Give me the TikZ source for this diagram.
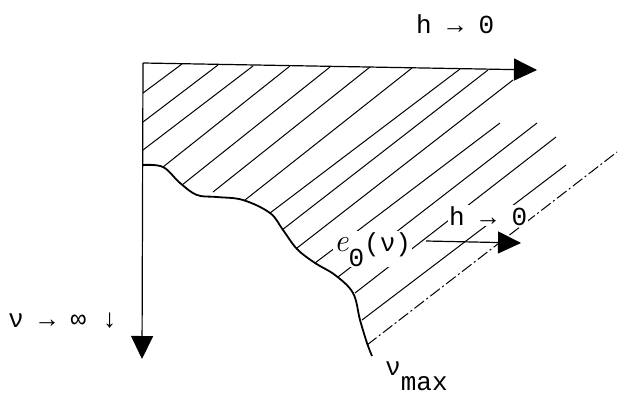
\documentclass[tikz,border=0pt]{standalone}
\usepackage{fontspec}
\usepackage{tikz}
\usetikzlibrary{arrows.meta}
\newfontfamily\typew{Liberation Mono}
\newfontfamily\scripte{Latin Modern Roman}

\tikzset{
  axis/.style={line width=1.2pt, -{Triangle[length=23pt,width=22pt]}},
  hatch/.style={line width=1pt},
  front/.style={line width=1.8pt, line join=round},
  lbl/.style={font=\typew\fontsize{26}{30}\selectfont, inner sep=0pt},
}

\begin{document}
\begin{tikzpicture}[x=1pt,y=-1pt]
  \useasboundingbox (0,0) rectangle (620,394);
  % hatching of the region
  \foreach \xa/\ya/\xb/\yb in {143/93/182/64, 143/122/218/65, 143/150/253/66,
      163/167/290/66, 182/185/330/67, 213/192/370/67, 245/200/412/68,
      270/213/460/69, 282/230/488/70, 297/248/513/80, 315/263/500/123,
      338/277/537/123, 355/293/556/137, 362/320/566/165}
    \draw[hatch] (\xa,\ya) -- (\xb,\yb);
  \draw[hatch, dash pattern=on 12pt off 3pt on 2pt off 3pt] (367,345) -- (617,152);
  % boundary curve
  \draw[front] plot[smooth, tension=0.6] coordinates {(143,165) (163,167) (180,183)
      (197,195) (217,197) (243,200) (270,213) (283,230) (297,249) (315,263)
      (335,275) (353,293) (360,320) (367,343) (372,356)};
  % axes
  \coordinate (O) at (143,63);
  \coordinate (htip) at (537,70);
  \coordinate (vtip) at (142,359);
  \draw[axis] (O) -- (htip);
  \draw[axis] (O) -- (vtip);
  % labels
  \node[lbl, anchor=base west] (htop) at (416,33) {h → 0};
  \node[lbl, anchor=base west] (nuinf) at (8,327) {ν → ∞ ↓};
  \node[lbl, anchor=base west] (numax) at (385,375) {ν\raisebox{-15pt}{max}};
  \node[lbl, anchor=base west, fill=white, inner sep=1pt] (eo) at (333,251)
    {{\scripte\itshape\fontsize{32}{32}\selectfont e}\raisebox{-15pt}{0}(ν)};
  \node[lbl, anchor=base west, fill=white, inner sep=1pt] (hmid) at (448,225) {h → 0};
  % shift of the front
  \coordinate (estart) at (426,241);
  \coordinate (etip) at (521,243);
  \draw[axis] (estart) -- (etip);
\end{tikzpicture}
\end{document}
